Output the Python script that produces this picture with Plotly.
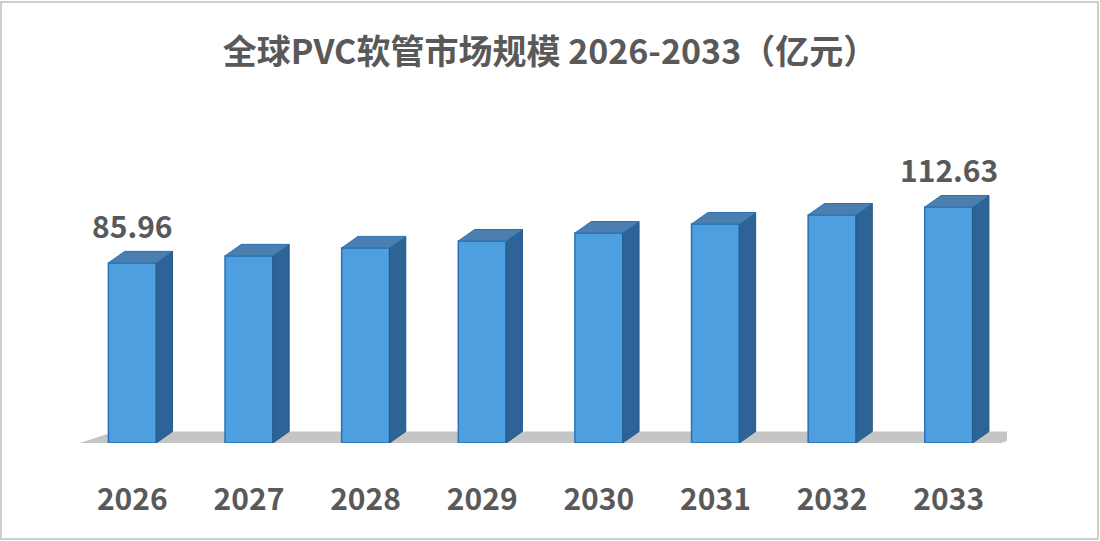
import plotly.graph_objects as go

years = ["2026", "2027", "2028", "2029", "2030", "2031", "2032", "2033"]
values = [85.96, 89.3, 93.1, 96.4, 100.2, 104.5, 108.8, 112.63]
labels = ["85.96", "", "", "", "", "", "", "112.63"]

W, H = 1100, 541
ml, mr, mt, mb = 74, 93, 100, 98
pw, ph = W - ml - mr, H - mt - mb

bar_w = 0.41
dx = 0.14   # depth in category units
dy = 5.5    # depth in value units

fig = go.Figure()
fig.add_trace(go.Bar(
    x=list(range(len(years))), y=values, width=bar_w,
    marker=dict(color="#4d9fe0", line=dict(color="#2a72b5", width=1.5)),
    hoverinfo="x+y",
))

shapes = []
# floor shadow
shapes.append(dict(type="path", xref="x", yref="y", layer="below",
                   path="M -0.45,0 L 7.45,0 L 7.75,%f L -0.15,%f Z" % (dy, dy),
                   fillcolor="rgba(110,110,110,0.4)", line=dict(width=0)))
for i, v in enumerate(values):
    l, r = i - bar_w / 2, i + bar_w / 2
    # side face
    shapes.append(dict(type="path", xref="x", yref="y",
                       path="M %f,0 L %f,%f L %f,%f L %f,%f Z" % (r, r + dx, dy, r + dx, v + dy, r, v),
                       fillcolor="#2d6396", line=dict(color="#245a8a", width=1)))
    # top face
    shapes.append(dict(type="path", xref="x", yref="y",
                       path="M %f,%f L %f,%f L %f,%f L %f,%f Z" % (l, v, r, v, r + dx, v + dy, l + dx, v + dy),
                       fillcolor="#4a7fb0", line=dict(color="#2a72b5", width=1)))
# image border
shapes.append(dict(type="rect", xref="paper", yref="paper",
                   x0=(1 - ml) / pw, x1=(W - ml - 2) / pw, y0=(-mb + 2) / ph, y1=(H - mb - 2) / ph,
                   line=dict(color="#bfbfbf", width=1.5)))

annotations = []
for i, (v, t) in enumerate(zip(values, labels)):
    if t:
        annotations.append(dict(x=i, y=v + dy, text="<b>%s</b>" % t, showarrow=False, yanchor="bottom", yshift=2,
                                font=dict(size=30, color="#595959", family="Noto Sans CJK SC")))

fig.update_layout(
    width=W, height=H,
    paper_bgcolor="white", plot_bgcolor="white",
    margin=dict(l=ml, r=mr, t=mt, b=mb),
    title=dict(text="<b>全球PVC软管市场规模 2026-2033（亿元）</b>", x=0.5, xanchor="center", y=0.925,
               font=dict(size=34, color="#595959", family="Noto Sans CJK SC")),
    xaxis=dict(range=[-0.5, 7.5], tickvals=list(range(len(years))), ticktext=["<b>%s</b>" % y for y in years],
               showgrid=False, zeroline=False, showline=False, ticklabelstandoff=36,
               tickfont=dict(size=30, color="#595959", family="Noto Sans CJK SC")),
    yaxis=dict(range=[0, 163.7], visible=False),
    shapes=shapes, annotations=annotations, showlegend=False,
)

fig.write_html("out.html", config={"displayModeBar": False},
               post_script="document.body.style.margin='0';")
